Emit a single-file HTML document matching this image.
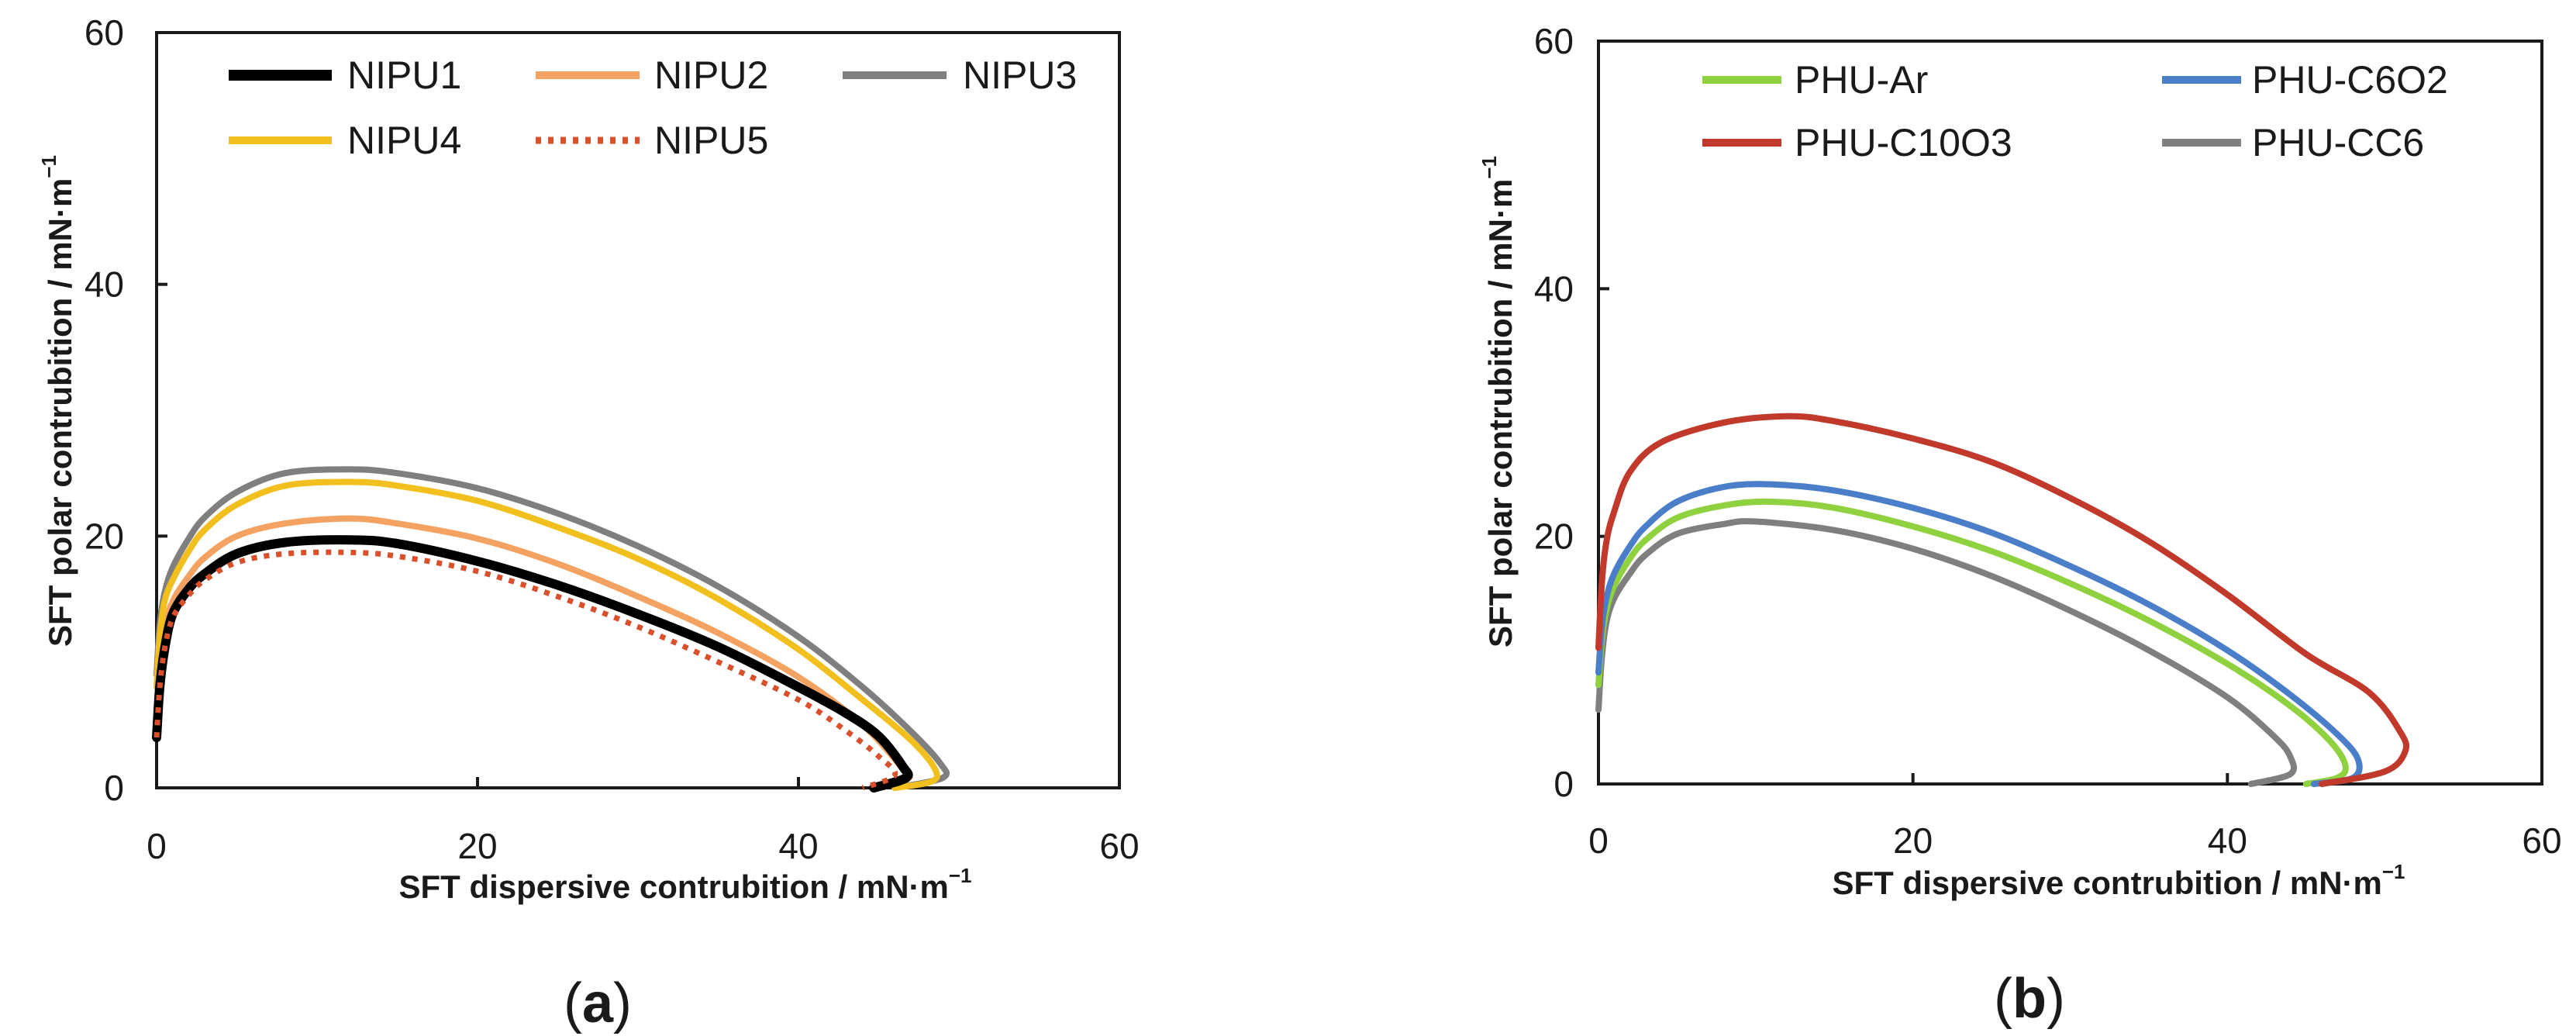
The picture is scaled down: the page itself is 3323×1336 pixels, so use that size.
<!DOCTYPE html>
<html><head><meta charset="utf-8"><style>
html,body{margin:0;padding:0;background:#fff;}
svg{display:block;}
text{font-family:"Liberation Sans",sans-serif;fill:#1a1a1a;}
</style></head><body>
<svg id="fig" width="3323" height="1336" viewBox="0 0 3323 1336" xmlns="http://www.w3.org/2000/svg"></svg>
<script>
// ---------- Panel (a) data ----------
const aTicks = [0, 20, 40, 60];
const n1x = [0,0.2,0.5,1,2,3,5,8,12,15,20,25,30,35,40,43,45,46.5,46.7,44.7];
const n1y = [4,8,11,13.8,15.8,17,18.6,19.5,19.7,19.4,18,16.1,13.8,11.2,8,5.9,4.1,1.7,0.8,0];
const n2x = [0,0.2,0.5,1,2,3,5,8,12,15,20,25,30,35,40,44,46.5,46.8,45];
const n2y = [6,9.5,12.5,14.8,16.8,18.3,20,21,21.4,21,19.8,17.8,15.2,12.3,8.8,5,1.5,0.7,0];
const n3x = [0,0.2,0.5,1,2,3,5,8,12,15,20,25,30,35,40,44,47,48.8,49,46];
const n3y = [9,13,15.5,17.5,19.8,21.5,23.5,25,25.3,25,23.8,21.8,19.2,16,12,8,4.5,2,0.8,0];
const n4x = [0,0.2,0.5,1,2,3,5,8,12,15,20,25,30,35,40,44,47,48.5,48.3,46];
const n4y = [8,12,14.8,16.5,18.8,20.5,22.5,24,24.3,24,22.8,20.7,18.2,15,11,7,3.8,1.5,0.5,0];
const n5x = [0,0.2,0.5,1,2,3,5,8,12,15,20,25,30,35,40,43,45,46,44];
const n5y = [4,8,11,13.5,15.3,16.5,17.9,18.6,18.7,18.4,17.2,15.2,12.8,10,7,4.5,2.5,1,0];
// ---------- Panel (b) data ----------
const bTicks = [0, 20, 40, 60];
const arx = [0,0.2,0.5,1,2,3,5,8,11,15,20,25,30,35,40,44,46.5,47.5,47,45];
const ary = [8,11.5,14,16,18.2,19.7,21.5,22.5,22.8,22.3,20.8,18.8,16.2,13.2,9.7,6.3,3.5,1.5,0.5,0];
const c6x = [0,0.2,0.5,1,2,3,5,8,11,15,20,25,30,35,40,44,47,48.3,48,45.5];
const c6y = [9,12.5,15,17,19.2,20.8,22.8,24,24.2,23.7,22.3,20.3,17.6,14.5,10.8,7.2,4,2,0.5,0];
const c10x = [0,0.2,0.5,1,2,4,8,12,15,20,25,30,35,40,45,49,51,51.3,50,46];
const c10y = [11,16,19.5,22,25.2,27.6,29.2,29.7,29.3,27.9,26,23.1,19.6,15.3,10.5,7.4,4.2,2.6,1,0];
const cc6x = [0,0.2,0.5,1,2,3,5,8,10,15,20,25,30,35,40,43,44,44,41.5];
const cc6y = [6,10,13,15,17,18.5,20.2,21,21.2,20.5,19,16.8,14,10.8,7,3.8,2.2,0.8,0];

const NS = "http://www.w3.org/2000/svg";
const svg = document.getElementById('fig');
function el(tag, attrs, parent){
  const e = document.createElementNS(NS, tag);
  for (const k in attrs) e.setAttribute(k, attrs[k]);
  (parent||svg).appendChild(e);
  return e;
}
function smoothPath(P){
  let d = 'M' + P[0][0].toFixed(1) + ',' + P[0][1].toFixed(1);
  for (let i=0;i<P.length-1;i++){
    const p0 = P[i-1]||P[i], p1=P[i], p2=P[i+1], p3=P[i+2]||P[i+1];
    const c1x = p1[0]+(p2[0]-p0[0])/6, c1y = p1[1]+(p2[1]-p0[1])/6;
    const c2x = p2[0]-(p3[0]-p1[0])/6, c2y = p2[1]-(p3[1]-p1[1])/6;
    d += ` C${c1x.toFixed(1)},${c1y.toFixed(1)} ${c2x.toFixed(1)},${c2y.toFixed(1)} ${p2[0].toFixed(1)},${p2[1].toFixed(1)}`;
  }
  return d;
}

function panel(cfg){
  const g = el('g', {});
  
  
  const L=cfg.L, R=cfg.R, T=cfg.T, B=cfg.B;
  const sx = v => L + (v-0)/(60-0)*(R-L);
  const sy = v => B - (v-0)/(60-0)*(B-T);
  const frame = el('rect', {x:L, y:T, width:R-L, height:B-T, fill:'none', stroke:'#1a1a1a', 'stroke-width':4}, g);
  
  
  cfg.ticks.forEach(t => {
    if (t>0 && t<60){
      const tk = el('line', {x1:sx(t), x2:sx(t), y1:B, y2:B-14, stroke:'#1a1a1a','stroke-width':4}, g);
      
      
      const tk2 = el('line', {x1:L, x2:L+14, y1:sy(t), y2:sy(t), stroke:'#1a1a1a','stroke-width':4}, g);
      
      
    }
    const xl = el('text', {x:sx(t), y:cfg.xLabY, 'font-size':46, 'text-anchor':'middle'}, g);
    xl.textContent = t;
    
    
    const yl = el('text', {x:cfg.yLabX, y:sy(t)+16, 'font-size':46, 'text-anchor':'end'}, g);
    yl.textContent = t;
    
    
  });
  const xt = el('text', {x:cfg.xTitleX, y:cfg.xTitleY, 'font-size':42, 'font-weight':'bold', 'text-anchor':'middle'}, g);
  xt.innerHTML = 'SFT dispersive contrubition / mN·m<tspan dy="-20" font-size="26">−1</tspan>';
  
  
  const yt = el('text', {x:0, y:0, 'font-size':42, 'font-weight':'bold', 'text-anchor':'middle', transform:`translate(${cfg.yTitleX},${cfg.yTitleY}) rotate(-90)`}, g);
  yt.innerHTML = 'SFT polar contrubition / mN·m<tspan dy="-20" font-size="26">−1</tspan>';
  
  
  cfg.series.forEach(s => {
    const P = s.x.map((v,i)=> [sx(v), sy(s.y[i])]);
    const attrs = {d:smoothPath(P), fill:'none', stroke:s.color, 'stroke-width':s.w, 'stroke-linejoin':'round', 'stroke-linecap':'round'};
    if (s.dash) { attrs['stroke-dasharray']=s.dash; attrs['stroke-linecap']='butt'; }
    const p = el('path', attrs, g);
    
    
    const lg = el('g', {}, g);
    
    
    const la = {x1:s.lx1, x2:s.lx2, y1:s.ly, y2:s.ly, stroke:s.color, 'stroke-width':s.w+2};
    if (s.dash) la['stroke-dasharray']=s.dash;
    el('line', la, lg);
    const lt = el('text', {x:s.tx, y:s.ly+17, 'font-size':50}, lg);
    lt.textContent = s.label;
  });
  const cap = el('text', {x:cfg.capX, y:cfg.capY, 'font-size':72, 'text-anchor':'middle', 'font-family':'"Liberation Serif",serif'}, g);
  cap.innerHTML = '(<tspan font-weight="bold">' + cfg.cap + '</tspan>)';
  
  
}

panel({name:'panel-a', L:202, R:1444, T:42, B:1016, ticks:aTicks, xLabY:1107, yLabX:160,
  xTitleX:884, xTitleY:1158, yTitleX:92, yTitleY:517, capX:771, capY:1318, cap:'a',
  series:[
    {label:'NIPU2', x:n2x, y:n2y, color:'#f4a261', w:8, lx1:691, lx2:825, ly:97, tx:844},
    {label:'NIPU3', x:n3x, y:n3y, color:'#7f7f7f', w:8, lx1:1087, lx2:1221, ly:97, tx:1242},
    {label:'NIPU4', x:n4x, y:n4y, color:'#f2c01e', w:8, lx1:295, lx2:428, ly:181, tx:448},
    {label:'NIPU1', x:n1x, y:n1y, color:'#000000', w:12, lx1:295, lx2:428, ly:97, tx:448},
    {label:'NIPU5', x:n5x, y:n5y, color:'#d9502c', w:7, dash:'7 9', lx1:691, lx2:825, ly:181, tx:844}
  ]});

panel({name:'panel-b', L:2062, R:3279, T:53, B:1011, ticks:bTicks, xLabY:1100, yLabX:2030,
  xTitleX:2733, xTitleY:1153, yTitleX:1950, yTitleY:518, capX:2618, capY:1312, cap:'b',
  series:[
    {label:'PHU-CC6', x:cc6x, y:cc6y, color:'#7f7f7f', w:8, lx1:2789, lx2:2891, ly:184, tx:2905},
    {label:'PHU-Ar', x:arx, y:ary, color:'#8fd13f', w:8, lx1:2196, lx2:2298, ly:103, tx:2315},
    {label:'PHU-C6O2', x:c6x, y:c6y, color:'#4a7ec8', w:8, lx1:2789, lx2:2891, ly:103, tx:2905},
    {label:'PHU-C10O3', x:c10x, y:c10y, color:'#c0392b', w:8, lx1:2196, lx2:2298, ly:184, tx:2315}
  ]});
</script>
</body></html>
